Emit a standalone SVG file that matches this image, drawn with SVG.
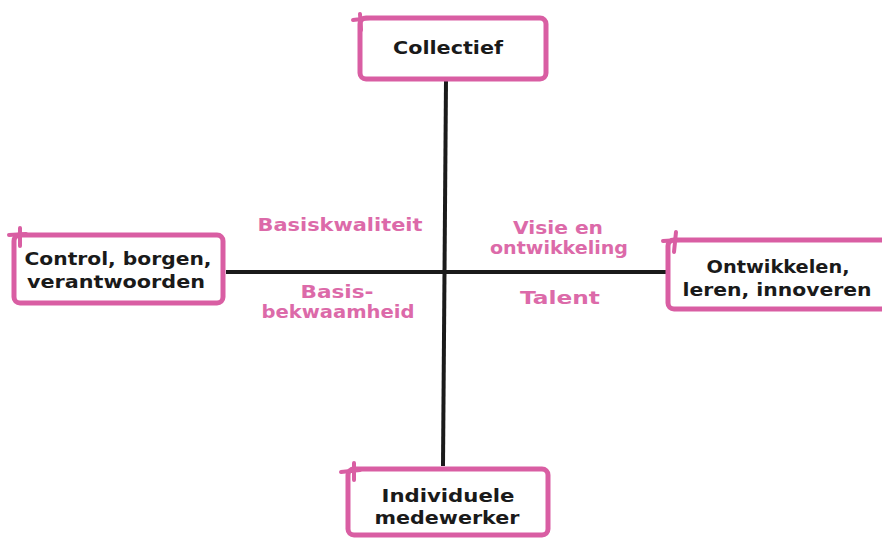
<svg xmlns="http://www.w3.org/2000/svg" width="882" height="539" viewBox="0 0 882 539">
<style>
.box{fill:#fff;stroke:#d95ea3;stroke-width:5;}
.tick{fill:none;stroke:#d95ea3;stroke-width:4;stroke-linecap:round;}
.nt{font-family:"DejaVu Sans","Liberation Sans",sans-serif;font-size:18px;font-weight:bold;fill:#1a1a1a;text-anchor:middle;}
.lt{font-family:"DejaVu Sans","Liberation Sans",sans-serif;font-size:18px;font-weight:bold;fill:#dc6aa9;text-anchor:middle;}
.ax{stroke:#1a1a1a;stroke-width:4;fill:none;}
</style>
<rect width="882" height="539" fill="#fff"/>
<g id="connectors">
<line class="ax" x1="446" y1="80" x2="443" y2="466"/>
<line class="ax" x1="226" y1="272" x2="666" y2="272"/>
</g>
<g id="collectief">
<rect class="box" x="360" y="18" width="186" height="61" rx="6"/>
<path class="tick" d="M353 20 L370 18 M360 14 L361 30"/>
<text class="nt" x="448" y="54" textLength="110" lengthAdjust="spacingAndGlyphs">Collectief</text>
</g>
<g id="control">
<rect class="box" x="14" y="235" width="209" height="68" rx="6"/>
<path class="tick" d="M9 235 L26 234 M20 228 L20 246"/>
<text class="nt" x="118" y="265" textLength="187" lengthAdjust="spacingAndGlyphs">Control, borgen,</text>
<text class="nt" x="116" y="288" textLength="178" lengthAdjust="spacingAndGlyphs">verantwoorden</text>
</g>
<g id="ontwikkelen">
<rect class="box" x="668" y="240" width="220" height="69" rx="6"/>
<path class="tick" d="M663 241 L680 240 M676 232 L674 252"/>
<text class="nt" x="778" y="273" textLength="143" lengthAdjust="spacingAndGlyphs">Ontwikkelen,</text>
<text class="nt" x="777" y="296" textLength="189" lengthAdjust="spacingAndGlyphs">leren, innoveren</text>
</g>
<g id="individuele">
<rect class="box" x="348" y="469" width="200" height="66" rx="6"/>
<path class="tick" d="M341 472 L360 470 M354 463 L354 480"/>
<text class="nt" x="448" y="502" textLength="133" lengthAdjust="spacingAndGlyphs">Individuele</text>
<text class="nt" x="447" y="524" textLength="145" lengthAdjust="spacingAndGlyphs">medewerker</text>
</g>
<g id="labels">
<text class="lt" x="340" y="231" textLength="165" lengthAdjust="spacingAndGlyphs">Basiskwaliteit</text>
<text class="lt" x="558" y="234" textLength="90" lengthAdjust="spacingAndGlyphs">Visie en</text>
<text class="lt" x="559" y="254" textLength="138" lengthAdjust="spacingAndGlyphs">ontwikkeling</text>
<text class="lt" x="337" y="298" textLength="73" lengthAdjust="spacingAndGlyphs">Basis-</text>
<text class="lt" x="338" y="318" textLength="153" lengthAdjust="spacingAndGlyphs">bekwaamheid</text>
<text class="lt" x="560" y="304" textLength="80" lengthAdjust="spacingAndGlyphs">Talent</text>
</g>
</svg>
